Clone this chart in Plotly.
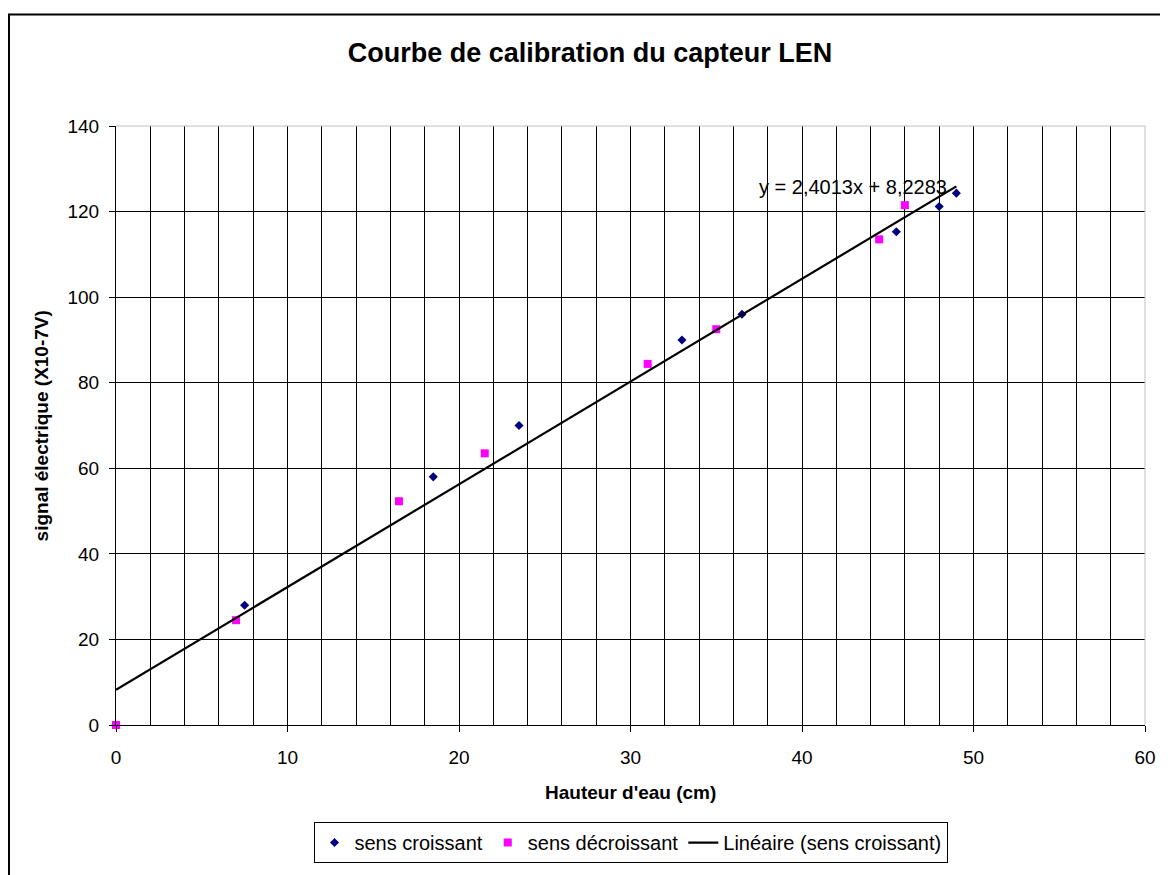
import numpy as np
import plotly.graph_objects as go

# données
hauteur_croissant = [0, 7.5, 18.5, 23.5, 33, 36.5, 45.5, 48, 49]
signal_croissant = [0, 28, 58, 70, 90, 96, 115.3, 121.2, 124.3]

hauteur_decroissant = [0, 7, 16.5, 21.5, 31, 35, 44.5, 46]
signal_decroissant = [0, 24.5, 52.3, 63.5, 84.4, 92.5, 113.5, 121.5]

pente = 2.4013
ordonnee = 8.2283

x_ticks = [0, 10, 20, 30, 40, 50, 60]
y_ticks = [0, 20, 40, 60, 80, 100, 120, 140]

FONT = "Liberation Sans, Arial, sans-serif"

# the page body has an 8px margin, so the figure is shrunk by that amount
WIDTH, HEIGHT = 1160, 867

fig = go.Figure()

fig.add_trace(
    go.Scatter(
        x=hauteur_croissant,
        y=signal_croissant,
        mode="markers",
        name="sens croissant",
        marker=dict(symbol="diamond", size=7, color="#000080"),
        cliponaxis=False,
    )
)
fig.add_trace(
    go.Scatter(
        x=hauteur_decroissant,
        y=signal_decroissant,
        mode="markers",
        name="sens décroissant",
        marker=dict(symbol="square", size=8, color="#FF00FF"),
        cliponaxis=False,
    )
)

# courbe de tendance linéaire
x_fit = np.array([min(hauteur_croissant), max(hauteur_croissant)])
y_fit = pente * x_fit + ordonnee
fig.add_trace(
    go.Scatter(
        x=x_fit,
        y=y_fit,
        mode="lines",
        name="Linéaire (sens croissant)",
        line=dict(color="black", width=2.2),
    )
)

fig.add_annotation(
    x=37.4,
    y=125.8,
    xref="x",
    yref="y",
    text=f"y = {str(pente).replace('.', ',')}x + {str(ordonnee).replace('.', ',')}",
    showarrow=False,
    xanchor="left",
    yanchor="middle",
    font=dict(family=FONT, size=20, color="black"),
)

# titres des axes
fig.add_annotation(
    x=0.5, y=-0.112, xref="paper", yref="paper",
    text="<b>Hauteur d'eau (cm)</b>", showarrow=False,
    xanchor="center", yanchor="middle",
    font=dict(family=FONT, size=19, color="black"),
)
fig.add_annotation(
    x=-0.072, y=0.5, xref="paper", yref="paper",
    text="<b>signal électrique (X10-7V)</b>", showarrow=False,
    textangle=-90, xanchor="center", yanchor="middle",
    font=dict(family=FONT, size=19, color="black"),
)

# cadre extérieur (ouvert à droite et en bas) et bords gris de la zone de tracé
fig.add_shape(
    type="path", xref="paper", yref="paper",
    path="M 1.2,1.186 L -0.104,1.186 L -0.104,-0.6",
    line=dict(color="black", width=2), layer="below",
)
fig.add_shape(
    type="line", xref="paper", yref="paper",
    x0=0, x1=1, y0=1, y1=1,
    line=dict(color="#c0c0c0", width=1), layer="above",
)
fig.add_shape(
    type="line", xref="paper", yref="paper",
    x0=1, x1=1, y0=0, y1=1,
    line=dict(color="#c0c0c0", width=1), layer="above",
)

fig.update_xaxes(
    range=[0, 60],
    tickvals=x_ticks,
    ticks="outside",
    ticklen=6,
    tickcolor="black",
    showline=True,
    linecolor="black",
    linewidth=1,
    showgrid=True,
    gridcolor="black",
    gridwidth=1,
    zeroline=False,
    minor=dict(dtick=2, showgrid=True, gridcolor="black", gridwidth=1),
    tickfont=dict(family=FONT, size=19, color="black"),
    ticklabelstandoff=9,
)
fig.update_yaxes(
    range=[0, 140],
    tickvals=y_ticks,
    ticks="outside",
    ticklen=6,
    tickcolor="black",
    showline=True,
    linecolor="black",
    linewidth=1,
    showgrid=True,
    gridcolor="black",
    gridwidth=1,
    zeroline=False,
    tickfont=dict(family=FONT, size=19, color="black"),
    ticklabelstandoff=6,
)

fig.update_layout(
    width=WIDTH,
    height=HEIGHT,
    margin=dict(l=108, r=23, t=118, b=136),
    paper_bgcolor="white",
    plot_bgcolor="white",
    font=dict(family=FONT, color="black"),
    title=dict(
        text="<b>Courbe de calibration du capteur LEN</b>",
        x=582 / WIDTH,
        xref="container",
        xanchor="center",
        y=1 - 45 / HEIGHT,
        yref="container",
        yanchor="middle",
        font=dict(family=FONT, size=27, color="black"),
    ),
    legend=dict(
        orientation="h",
        x=0.5,
        xanchor="center",
        y=-0.162,
        yanchor="top",
        bordercolor="black",
        borderwidth=1,
        bgcolor="white",
        font=dict(family=FONT, size=20, color="black"),
    ),
)

fig.write_html("out.html")
